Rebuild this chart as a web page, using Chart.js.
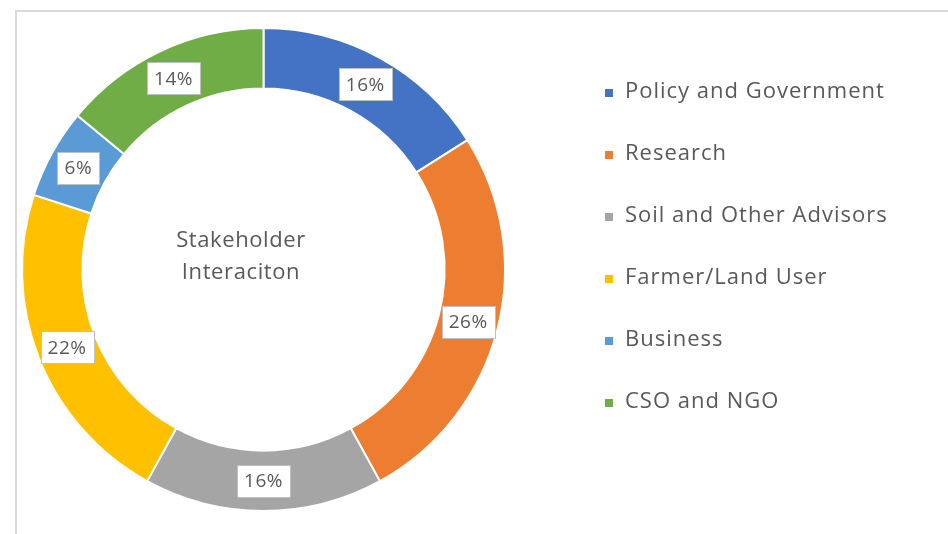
<!DOCTYPE html>
<html>
<head>
<meta charset="utf-8">
<script src="https://cdn.jsdelivr.net/npm/chart.js@4"></script>
<style>
  html, body { margin: 0; padding: 0; background: #fff; }
  #wrap { width: 948px; height: 534px; }
</style>
</head>
<body>
<div id="wrap"><canvas id="grafico" width="948" height="534"></canvas></div>
<script>
const categorias = ['Policy and Government', 'Research', 'Soil and Other Advisors', 'Farmer/Land User', 'Business', 'CSO and NGO'];
const percentuais = [16, 26, 16, 22, 6, 14];
const cores = ['#4472C4', '#ED7D31', '#A5A5A5', '#FFC000', '#5B9BD5', '#70AD47'];
const tituloCentro = ['Stakeholder', 'Interaciton'];

const fonte = '"Open Sans", "Liberation Sans", sans-serif';
const cinzaTexto = '#595959';

// moldura cinza (so aparece a borda esquerda e a de cima)
const moldura = {
  id: 'moldura',
  beforeDraw(chart) {
    const ctx = chart.ctx;
    ctx.save();
    ctx.strokeStyle = '#d9d9d9';
    ctx.lineWidth = 2;
    ctx.beginPath();
    ctx.moveTo(16, 534);
    ctx.lineTo(16, 11);
    ctx.lineTo(948, 11);
    ctx.stroke();
    ctx.restore();
  }
};

// rotulos de porcentagem em caixinhas brancas no meio do anel
const rotulos = {
  id: 'rotulos',
  afterDatasetsDraw(chart) {
    const ctx = chart.ctx;
    const meta = chart.getDatasetMeta(0);
    ctx.save();
    ctx.font = '19px ' + fonte;
    ctx.letterSpacing = '0.5px';
    ctx.textAlign = 'center';
    ctx.textBaseline = 'middle';
    meta.data.forEach((arc, i) => {
      const p = arc.getProps(['x', 'y', 'startAngle', 'endAngle', 'innerRadius', 'outerRadius']);
      const ang = (p.startAngle + p.endAngle) / 2;
      const r = (p.innerRadius + p.outerRadius) / 2;
      const x = p.x + Math.cos(ang) * r;
      const y = p.y + Math.sin(ang) * r;
      const txt = percentuais[i] + '%';
      const w = Math.round(ctx.measureText(txt).width + 14);
      const h = 32;
      const bx = Math.round(x - w / 2), by = Math.round(y - h / 2);
      ctx.fillStyle = '#ffffff';
      ctx.fillRect(bx, by, w, h);
      ctx.strokeStyle = '#bfbfbf';
      ctx.lineWidth = 1;
      ctx.strokeRect(bx + 0.5, by + 0.5, w, h);
      ctx.fillStyle = cinzaTexto;
      ctx.fillText(txt, x, y + 1);
    });
    ctx.restore();
  }
};

// texto no centro e legenda a direita
const extras = {
  id: 'extras',
  afterDraw(chart) {
    const ctx = chart.ctx;
    ctx.save();
    ctx.fillStyle = cinzaTexto;
    ctx.font = '22px ' + fonte;
    ctx.letterSpacing = '0.6px';
    ctx.textAlign = 'center';
    ctx.textBaseline = 'middle';
    ctx.fillText(tituloCentro[0], 241, 241);
    ctx.fillText(tituloCentro[1], 241, 273);

    ctx.textAlign = 'left';
    ctx.letterSpacing = '1px';
    chart.data.labels.forEach((lab, i) => {
      const y = 92 + i * 62;
      ctx.fillStyle = chart.data.datasets[0].backgroundColor[i];
      ctx.fillRect(605, y - 3, 8, 8);
      ctx.fillStyle = cinzaTexto;
      ctx.fillText(lab, 625, y);
    });
    ctx.restore();
  }
};

const ctx = document.getElementById('grafico').getContext('2d');
const grafico = new Chart(ctx, {
  type: 'doughnut',
  data: {
    labels: categorias,
    datasets: [{
      data: percentuais,
      backgroundColor: cores,
      borderColor: '#ffffff',
      borderWidth: 2
    }]
  },
  options: {
    responsive: false,
    animation: false,
    cutout: '75%',
    layout: { padding: { left: 21, top: 27, right: 442, bottom: 22 } },
    plugins: {
      legend: { display: false },
      tooltip: { enabled: false }
    }
  },
  plugins: [moldura, rotulos, extras]
});
</script>
</body>
</html>
